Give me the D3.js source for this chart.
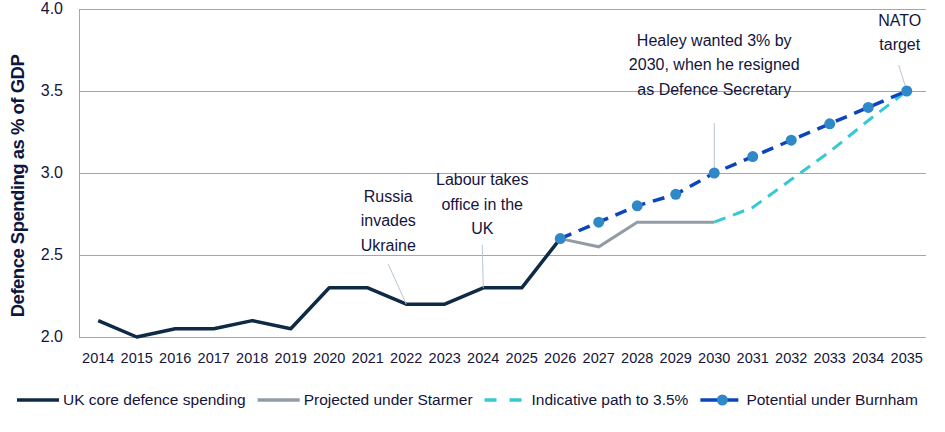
<!DOCTYPE html>
<html>
<head>
<meta charset="utf-8">
<script src="https://cdn.jsdelivr.net/npm/d3@7"></script>
<style>
    html, body { margin: 0; padding: 0; background: #fff; }
    svg { display: block; font-family: "Liberation Sans", Arial, sans-serif; }
    .gridlines line { stroke: #a6a6a6; stroke-width: 1; }
    .gridlines path { display: none; }
    .tick-label { fill: #14143c; }
    .note { fill: #14143c; font-size: 16px; }
    .leader { stroke: #b9c5d1; stroke-width: 1; }
</style>
</head>
<body>
<div id="chart"></div>
<script>
const years = [2014, 2015, 2016, 2017, 2018, 2019, 2020, 2021, 2022, 2023, 2024,
    2025, 2026, 2027, 2028, 2029, 2030, 2031, 2032, 2033, 2034, 2035];

const coreYears = [2014, 2015, 2016, 2017, 2018, 2019, 2020, 2021, 2022, 2023, 2024, 2025, 2026];
const coreValues = [2.1, 2.0, 2.05, 2.05, 2.1, 2.05, 2.3, 2.3, 2.2, 2.2, 2.3, 2.3, 2.6];

const starmerYears = [2026, 2027, 2028, 2029, 2030];
const starmerValues = [2.6, 2.55, 2.7, 2.7, 2.7];

const indicativeYears = [2030, 2031, 2032, 2033, 2034, 2035];
const indicativeValues = [2.7, 2.79, 2.96, 3.13, 3.32, 3.5];

const burnhamYears = [2026, 2027, 2028, 2029, 2030, 2031, 2032, 2033, 2034, 2035];
const burnhamValues = [2.6, 2.7, 2.8, 2.87, 3.0, 3.1, 3.2, 3.3, 3.4, 3.5];

const yTicks = [2.0, 2.5, 3.0, 3.5, 4.0];

const legendLabels = ["UK core defence spending", "Projected under Starmer",
    "Indicative path to 3.5%", "Potential under Burnham"];

const notes = [
    { year: 2022, value: 2.2, lines: ["Russia", "invades", "Ukraine"] },
    { year: 2024, value: 2.3, lines: ["Labour takes", "office in the", "UK"] },
    { year: 2030, value: 3.0, lines: ["Healey wanted 3% by", "2030, when he resigned", "as Defence Secretary"] },
    { year: 2035, value: 3.5, lines: ["NATO", "target"] },
];

const colors = {
    core: "#0f2a45",
    starmer: "#939ca6",
    indicative: "#36c9d4",
    burnham: "#0a45bd",
    dot: "#2f88c8",
};

function zip(xs, vs) {
    return xs.map((x, i) => ({ year: x, value: vs[i] }));
}

document.addEventListener("DOMContentLoaded", () => {
    drawChart();
});

function drawChart() {
    const width = 945;
    const height = 432;
    const area = { left: 79, right: 926, top: 9, bottom: 337 };

    const svg = d3
        .select("#chart")
        .append("svg")
        .attr("width", width)
        .attr("height", height);

    const xScale = d3
        .scalePoint()
        .domain(years)
        .range([area.left, area.right])
        .padding(0.5);

    const yScale = d3
        .scaleLinear()
        .domain([2, 4])
        .range([area.bottom, area.top]);

    // gridlines
    svg.append("g")
        .attr("class", "gridlines")
        .attr("transform", `translate(${area.left}, 0)`)
        .call(d3.axisLeft(yScale).tickValues(yTicks).tickFormat("").tickSize(-(area.right - area.left)));

    svg.append("line")
        .attr("x1", area.left + 0.5)
        .attr("x2", area.left + 0.5)
        .attr("y1", area.top)
        .attr("y2", area.bottom)
        .attr("stroke", "#a6a6a6");

    // y tick labels
    svg.append("g")
        .selectAll("text")
        .data(yTicks)
        .join("text")
        .attr("class", "tick-label")
        .attr("x", 63)
        .attr("y", (d) => yScale(d))
        .attr("dy", "0.3em")
        .attr("text-anchor", "end")
        .attr("font-size", 16)
        .text((d) => d.toFixed(1));

    // x tick labels
    svg.append("g")
        .selectAll("text")
        .data(years)
        .join("text")
        .attr("class", "tick-label")
        .attr("x", (d) => xScale(d))
        .attr("y", 358)
        .attr("dy", "0.35em")
        .attr("text-anchor", "middle")
        .attr("font-size", 14.5)
        .text((d) => d);

    // y axis title
    svg.append("text")
        .attr("transform", `translate(24, 186) rotate(-90)`)
        .attr("text-anchor", "middle")
        .attr("font-size", 18.5)
        .attr("font-weight", "bold")
        .attr("letter-spacing", -0.5)
        .attr("fill", "#0d1640")
        .text("Defence Spending as % of GDP");

    const line = d3
        .line()
        .x((d) => xScale(d.year))
        .y((d) => yScale(d.value));

    const lines = svg.append("g").attr("fill", "none");

    lines.append("path")
        .attr("d", line(zip(starmerYears, starmerValues)))
        .attr("stroke", colors.starmer)
        .attr("stroke-width", 3);

    lines.append("path")
        .attr("d", line(zip(indicativeYears, indicativeValues)))
        .attr("stroke", colors.indicative)
        .attr("stroke-width", 3)
        .attr("stroke-dasharray", "12,8");

    lines.append("path")
        .attr("d", line(zip(coreYears, coreValues)))
        .attr("stroke", colors.core)
        .attr("stroke-width", 3.5)
        .attr("stroke-linejoin", "round");

    lines.append("path")
        .attr("d", line(zip(burnhamYears, burnhamValues)))
        .attr("stroke", colors.burnham)
        .attr("stroke-width", 3.5)
        .attr("stroke-dasharray", "12,8");

    // leader lines + notes
    const noteOffsets = [
        { lx: -18, ly: -40, tx: -18, ty: -108 },
        { lx: -1, ly: -43, tx: -1, ty: -108 },
        { lx: 0, ly: -50, tx: 0, ty: -133 },
        { lx: -8, ly: -26, tx: -7, ty: -71 },
    ];

    notes.forEach((n, i) => {
        const px = xScale(n.year);
        const py = yScale(n.value);
        const o = noteOffsets[i];
        svg.append("line")
            .attr("class", "leader")
            .attr("x1", px)
            .attr("y1", py)
            .attr("x2", px + o.lx)
            .attr("y2", py + o.ly);
        svg.append("text")
            .attr("class", "note")
            .attr("text-anchor", "middle")
            .selectAll("tspan")
            .data(n.lines)
            .join("tspan")
            .attr("x", px + o.tx)
            .attr("y", (d, j) => py + o.ty + j * 24.5)
            .attr("dy", "0.35em")
            .text((d) => d);
    });

    // dots
    svg.append("g")
        .selectAll("circle")
        .data(zip(burnhamYears, burnhamValues))
        .join("circle")
        .attr("cx", (d) => xScale(d.year))
        .attr("cy", (d) => yScale(d.value))
        .attr("r", 5.5)
        .attr("fill", colors.dot);

    drawLegend(svg);
}

function drawLegend(svg) {
    const y = 400;
    const swatch = 42;
    const legend = svg.append("g");
    let x = 17;

    legendLabels.forEach((label, i) => {
        const g = legend.append("g");
        if (i === 0 || i === 1) {
            g.append("line")
                .attr("x1", x).attr("x2", x + swatch)
                .attr("y1", y).attr("y2", y)
                .attr("stroke", i === 0 ? colors.core : colors.starmer)
                .attr("stroke-width", 3.5);
        } else if (i === 2) {
            g.append("line")
                .attr("x1", x).attr("x2", x + 39)
                .attr("y1", y).attr("y2", y)
                .attr("stroke", colors.indicative)
                .attr("stroke-width", 3.5)
                .attr("stroke-dasharray", "12,13");
        } else {
            g.append("line")
                .attr("x1", x).attr("x2", x + 38)
                .attr("y1", y).attr("y2", y)
                .attr("stroke", colors.burnham)
                .attr("stroke-width", 3.5);
            g.append("circle")
                .attr("cx", x + 22)
                .attr("cy", y)
                .attr("r", 5.5)
                .attr("fill", colors.dot);
        }
        const tx = i === 2 ? x + 47 : x + swatch + 4;
        const t = g.append("text")
            .attr("x", tx)
            .attr("y", y)
            .attr("dy", "0.35em")
            .attr("font-size", 15.5)
            .attr("fill", "#14143c")
            .text(label);
        x = tx + t.node().getComputedTextLength() + 12;
    });
}
</script>
</body>
</html>
